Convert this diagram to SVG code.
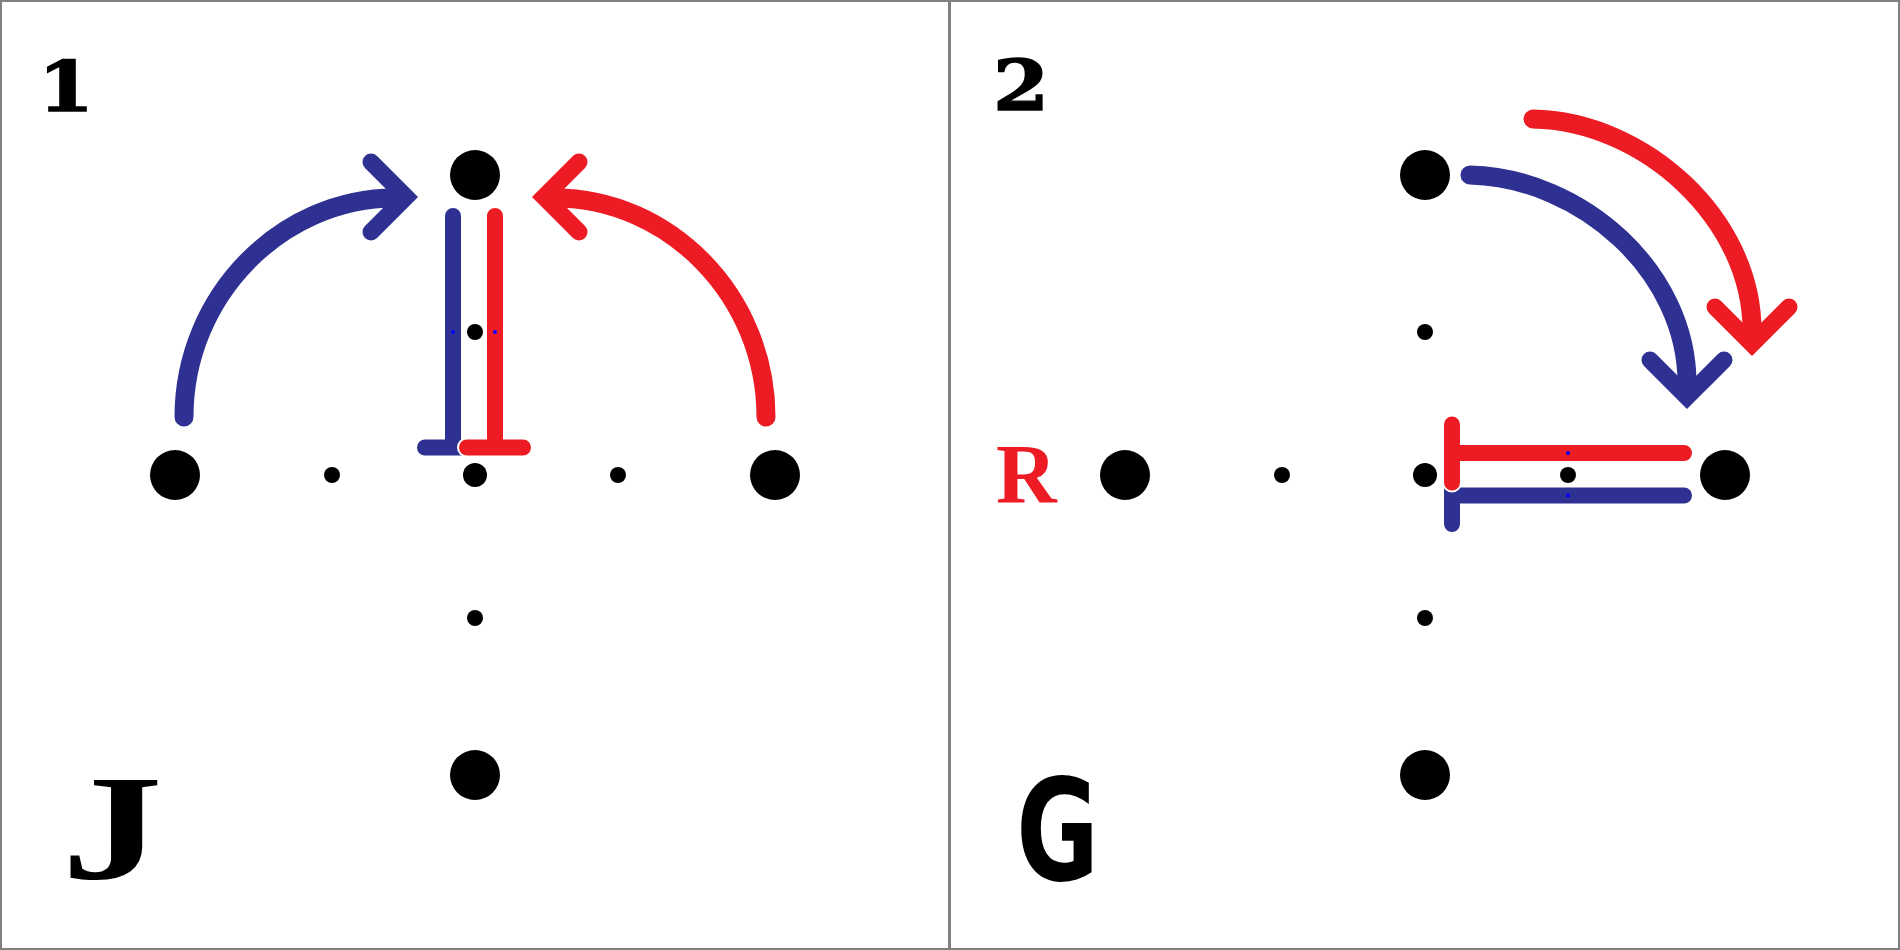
<svg xmlns="http://www.w3.org/2000/svg" width="1900" height="950" viewBox="0 0 1900 950">
<style>
.bg{fill:#ffffff}
.frame{fill:none;stroke:#808080;stroke-width:2}
.div{stroke:#808080;stroke-width:3}
.dot{fill:#000000}
.mark{fill:#0000ff}
.arc{fill:none;stroke-width:19;stroke-linecap:round}
.head{fill:none;stroke-width:17;stroke-linecap:round;stroke-linejoin:miter;stroke-miterlimit:10}
.bar{fill:none;stroke-width:16;stroke-linecap:round}
.halo{fill:none;stroke:#ffffff;stroke-width:20;stroke-linecap:round}
.blue{stroke:#2E3192}
.red{stroke:#ED1C24}
.num{font-family:"DejaVu Serif","Liberation Serif",serif;font-weight:bold;font-size:70px;fill:#000;stroke:#000;stroke-width:1.5}
.lbl{font-family:"Liberation Serif","DejaVu Serif",serif;font-weight:bold;font-size:84px;fill:#ED1C24}
.glyph{fill:#000}
</style>
<rect class="bg" x="0" y="0" width="1900" height="950"/>
<rect class="frame" x="1" y="1" width="1898" height="948"/>
<line class="div" x1="949.5" y1="0" x2="949.5" y2="950"/>

<g id="panel1-dots">
  <g id="p1-top"><circle class="dot" cx="475" cy="175" r="25"/></g>
  <g id="p1-upper"><circle class="dot" cx="475" cy="332" r="8"/></g>
  <g id="p1-center"><circle class="dot" cx="475" cy="475" r="12"/></g>
  <g id="p1-lower"><circle class="dot" cx="475" cy="618" r="8"/></g>
  <g id="p1-bottom"><circle class="dot" cx="475" cy="775" r="25"/></g>
  <g id="p1-left"><circle class="dot" cx="175" cy="475" r="25"/></g>
  <g id="p1-midleft"><circle class="dot" cx="332" cy="475" r="8"/></g>
  <g id="p1-midright"><circle class="dot" cx="618" cy="475" r="8"/></g>
  <g id="p1-right"><circle class="dot" cx="775" cy="475" r="25"/></g>
</g>

<g id="panel2-dots">
  <g id="p2-top"><circle class="dot" cx="1425" cy="175" r="25"/></g>
  <g id="p2-upper"><circle class="dot" cx="1425" cy="332" r="8"/></g>
  <g id="p2-center"><circle class="dot" cx="1425" cy="475" r="12"/></g>
  <g id="p2-lower"><circle class="dot" cx="1425" cy="618" r="8"/></g>
  <g id="p2-bottom"><circle class="dot" cx="1425" cy="775" r="25"/></g>
  <g id="p2-left"><circle class="dot" cx="1125" cy="475" r="25"/></g>
  <g id="p2-midleft"><circle class="dot" cx="1282" cy="475" r="8"/></g>
  <g id="p2-midright"><circle class="dot" cx="1568" cy="475" r="8"/></g>
  <g id="p2-right"><circle class="dot" cx="1725" cy="475" r="25"/></g>
</g>

<g id="connectors">
  <!-- panel 1 -->
  <path class="arc blue" d="M184,417 C184,295 282,198 395,198"/>
  <path class="head blue" d="M371,162 L406,197 L371,232"/>
  <path class="arc red" d="M766,417 C766,295 668,198 555,198"/>
  <path class="head red" d="M579,162 L544,197 L579,232"/>

  <path class="bar blue" d="M453,216 V447.5 M425,447.5 H481"/>
  <path class="halo" d="M495,216 V447.5 M467,447.5 H523"/>
  <path class="bar red" d="M495,216 V447.5 M467,447.5 H523"/>
  <circle class="mark" cx="453" cy="332" r="2"/>
  <circle class="mark" cx="495" cy="332" r="2"/>

  <!-- panel 2 -->
  <path class="arc red" d="M1533,119 C1645,121 1752,220 1752,330"/>
  <path class="head red" d="M1715,307 L1752,344 L1789,307"/>
  <path class="arc blue" d="M1470,175 C1582,178 1687,272 1687,383"/>
  <path class="head blue" d="M1650,360 L1687,397 L1724,360"/>

  <path class="bar blue" d="M1452,467 V524 M1452,495.5 H1684"/>
  <path class="halo" d="M1452,424.5 V482.5 M1452,453 H1684"/>
  <path class="bar red" d="M1452,424.5 V482.5 M1452,453 H1684"/>
  <circle class="mark" cx="1568" cy="453" r="2"/>
  <circle class="mark" cx="1568" cy="495.5" r="2"/>
</g>

<g id="labels">
  <text class="num" transform="translate(66,111) scale(1.15,1)" x="0" y="0" text-anchor="middle">1</text>
  <text class="num" transform="translate(1021,110) scale(1.15,1)" x="0" y="0" text-anchor="middle">2</text>
  <text class="lbl" x="996" y="503">R</text>
  <text class="glyph" transform="translate(112,879) scale(1.35,1)" x="0" y="0" text-anchor="middle" font-family="Liberation Serif, DejaVu Serif, serif" font-weight="bold" font-size="150">J</text>
  <text class="glyph" transform="translate(1057.5,880) scale(0.72,1)" x="0" y="0" text-anchor="middle" font-family="DejaVu Sans, Liberation Sans, sans-serif" font-weight="bold" font-size="140">G</text>
</g>
</svg>
